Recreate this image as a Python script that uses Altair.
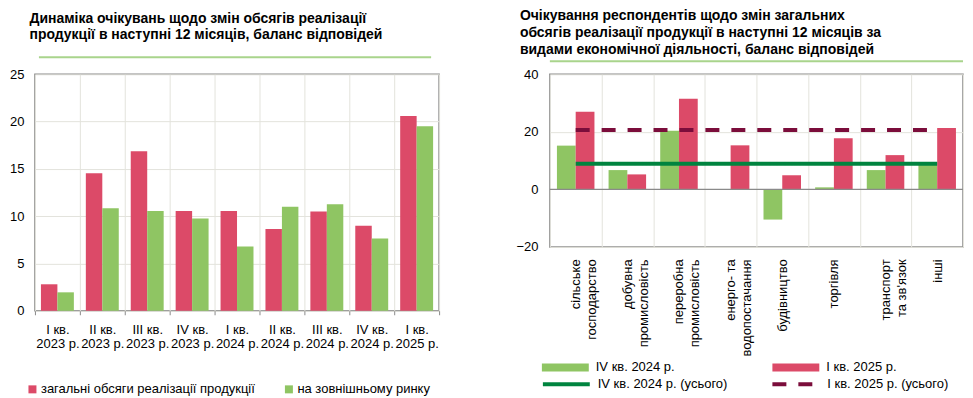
import altair as alt
import pandas as pd

FONT = "Liberation Sans"
RED = "#dc4a68"
GREEN = "#8fc563"
DKGREEN = "#00843f"
MAROON = "#7b0d3b"
LTGREEN = "#a9d48c"
GRID = "#e3e3dc"
FRAME = "#8a8a8a"

# ---------- left chart data ----------
quarters = ["I кв.|2023 р.", "II кв.|2023 р.", "III кв.|2023 р.", "IV кв.|2023 р.",
            "I кв.|2024 р.", "II кв.|2024 р.", "III кв.|2024 р.", "IV кв.|2024 р.",
            "I кв.|2025 р."]
total_sales = [2.8, 14.55, 16.85, 10.55, 10.55, 8.65, 10.5, 9.0, 20.6]
external_sales = [1.95, 10.85, 10.55, 9.75, 6.8, 11.0, 11.25, 7.65, 19.5]
left_series = ["загальні обсяги реалізації продукції", "на зовнішньому ринку"]
left_title = ["Динаміка очікувань щодо змін обсягів реалізації",
              "продукції в наступні 12 місяців, баланс відповідей"]

# ---------- right chart data ----------
sectors = ["сільське|господарство", "добувна|промисловість", "переробна|промисловість",
           "енерго- та|водопостачання", "будівництво", "торгівля",
           "транспорт|та зв'язок", "інші"]
q4_2024 = [15.2, 6.7, 20.4, None, -10.5, 0.7, 6.7, 9.3]
q1_2025 = [27.0, 5.2, 31.5, 15.3, 4.9, 17.8, 11.9, 21.3]
periods = ["IV кв. 2024 р.", "I кв. 2025 р."]
total_names = ["IV кв. 2024 р. (усього)", "I кв. 2025 р. (усього)"]
total_q4_2024 = 8.9
total_q1_2025 = 20.6
right_title = ["Очікування респондентів щодо змін загальних",
               "обсягів реалізації продукції в наступні 12 місяців за",
               "видами економічної діяльності, баланс відповідей"]

# ---------- tables ----------
left_df = pd.DataFrame(
    [{"quarter": q, "series": left_series[0], "value": v} for q, v in zip(quarters, total_sales)]
    + [{"quarter": q, "series": left_series[1], "value": v} for q, v in zip(quarters, external_sales)]
)
right_df = pd.DataFrame(
    [{"sector": s, "period": periods[0], "value": v} for s, v in zip(sectors, q4_2024) if v is not None]
    + [{"sector": s, "period": periods[1], "value": v} for s, v in zip(sectors, q1_2025)]
)
lines_df = pd.DataFrame(
    [{"sector": s, "name": total_names[0], "value": total_q4_2024} for s in sectors]
    + [{"sector": s, "name": total_names[1], "value": total_q1_2025} for s in sectors]
)
dummy = pd.DataFrame({"a": [0]})

LW, LH = 405, 237
RW, RH = 414, 173
LBAR = 16.5
RBAR = 18.8

# ---------- left chart ----------
lx = alt.X("quarter:N", sort=quarters,
           scale=alt.Scale(paddingInner=0, paddingOuter=0),
           axis=alt.Axis(title=None, labelExpr="split(datum.label, '|')", labelAngle=0,
                         labelAlign="center", labelBaseline="top", labelLineHeight=14,
                         tickBand="extent", grid=True, gridColor=GRID, domain=False,
                         ticks=True, tickSize=4, tickColor=FRAME, labelPadding=9,
                         labelFontSize=13))
ly = alt.Y("value:Q", scale=alt.Scale(domain=[0, 25], nice=False),
           axis=alt.Axis(title=None, values=[0, 5, 10, 15, 20, 25], grid=True,
                         gridColor=GRID, domain=False, ticks=False, labelPadding=11,
                         labelFontSize=13))
lcolor = alt.Color("series:N", sort=left_series,
                   scale=alt.Scale(domain=left_series, range=[RED, GREEN]),
                   legend=alt.Legend(orient="none", legendX=-9, legendY=309,
                                     direction="horizontal", title=None,
                                     symbolType="square", symbolSize=64, labelLimit=0,
                                     labelFontSize=13, columnPadding=27, labelOffset=2))
left_base = alt.Chart(left_df).encode(x=lx, y=ly, color=lcolor)
left_red = left_base.transform_filter(
    alt.datum.series == left_series[0]
).mark_bar(width=LBAR, xOffset=-LBAR / 2)
left_green = left_base.transform_filter(
    alt.datum.series == left_series[1]
).mark_bar(width=LBAR, xOffset=LBAR / 2)
left_line = alt.Chart(dummy).mark_rule(color=LTGREEN, strokeWidth=2).encode(
    x=alt.value(4), x2=alt.value(397), y=alt.value(-17)
)
left = alt.layer(left_red, left_green, left_line).properties(
    width=LW, height=LH,
    title=alt.TitleParams(text=left_title, anchor="start", dx=20, offset=14,
                          fontSize=14, fontWeight="bold", lineHeight=16.5, color="black"),
)

# ---------- right chart ----------
rx = alt.X("sector:N", sort=sectors,
           scale=alt.Scale(paddingInner=0, paddingOuter=0),
           axis=alt.Axis(title=None, labelExpr="split(datum.label, '|')", labelAngle=-90,
                         labelAlign="right", labelBaseline="middle", labelLineHeight=16,
                         tickBand="extent", grid=True, gridColor=GRID, domain=False,
                         ticks=False, labelPadding=12, labelFontSize=13))
ry = alt.Y("value:Q", scale=alt.Scale(domain=[-20, 40], nice=False),
           axis=alt.Axis(title=None, values=[-20, -10, 0, 10, 20, 30, 40], grid=True,
                         gridColor=GRID, domain=False, ticks=False, labelPadding=12,
                         labelFontSize=13))
bar_legend = alt.Legend(orient="none", legendX=-9, legendY=269,
                        direction="horizontal", title=None,
                        symbolType="M-1,-0.17H1V0.17H-1Z", symbolSize=2209,
                        labelFontSize=13, columnPadding=96, labelOffset=6,
                        labelLimit=0)
rscale = alt.Scale(domain=periods, range=[GREEN, RED])
right_bars_df = alt.Chart(right_df).encode(x=rx, y=ry)
right_green = right_bars_df.transform_filter(
    alt.datum.period == periods[0]
).mark_bar(width=RBAR, xOffset=-RBAR / 2).encode(
    color=alt.Color("period:N", sort=periods, scale=rscale, legend=bar_legend)
)
right_red = right_bars_df.transform_filter(
    alt.datum.period == periods[1]
).mark_bar(width=RBAR, xOffset=RBAR / 2).encode(
    color=alt.Color("period:N", sort=periods, scale=rscale, legend=None)
)
right_bars = alt.layer(right_green, right_red)
zero_rule = alt.Chart(dummy).mark_rule(color=FRAME, strokeWidth=1.2).encode(
    y=alt.datum(0)
)
line_legend = alt.Legend(orient="none", legendX=-9, legendY=285,
                         direction="horizontal", title=None,
                         symbolType="stroke", symbolSize=2209, symbolStrokeWidth=4,
                         labelFontSize=13, columnPadding=37, labelOffset=6, labelLimit=0)
right_lines = alt.Chart(lines_df).mark_line(strokeWidth=4).encode(
    x=alt.X("sector:N", sort=sectors),
    y=alt.Y("value:Q"),
    color=alt.Color("name:N", sort=total_names,
                    scale=alt.Scale(domain=total_names, range=[DKGREEN, MAROON]),
                    legend=line_legend),
    strokeDash=alt.StrokeDash("name:N", sort=total_names,
                              scale=alt.Scale(domain=total_names, range=[[1, 0], [14, 12]]),
                              legend=line_legend),
)
right_line = alt.Chart(dummy).mark_rule(color=LTGREEN, strokeWidth=2).encode(
    x=alt.value(0), x2=alt.value(RW), y=alt.value(-13)
)
right = alt.layer(right_bars, zero_rule, right_lines, right_line).resolve_scale(
    color="independent", strokeDash="independent"
).properties(
    width=RW, height=RH,
    title=alt.TitleParams(text=right_title, anchor="start", dx=4, offset=3,
                          fontSize=14, fontWeight="bold", lineHeight=17, color="black"),
)

chart = alt.hconcat(left, right, spacing=111, bounds="flush").properties(
    padding=0
).configure(font=FONT).configure_view(
    stroke=FRAME, strokeWidth=1.5
).configure_axis(
    labelColor="black", labelFont=FONT
).configure_legend(
    labelColor="black", labelFont=FONT
).configure_title(font=FONT)

chart.save("out.html", embed_options={"renderer": "svg", "actions": False})
